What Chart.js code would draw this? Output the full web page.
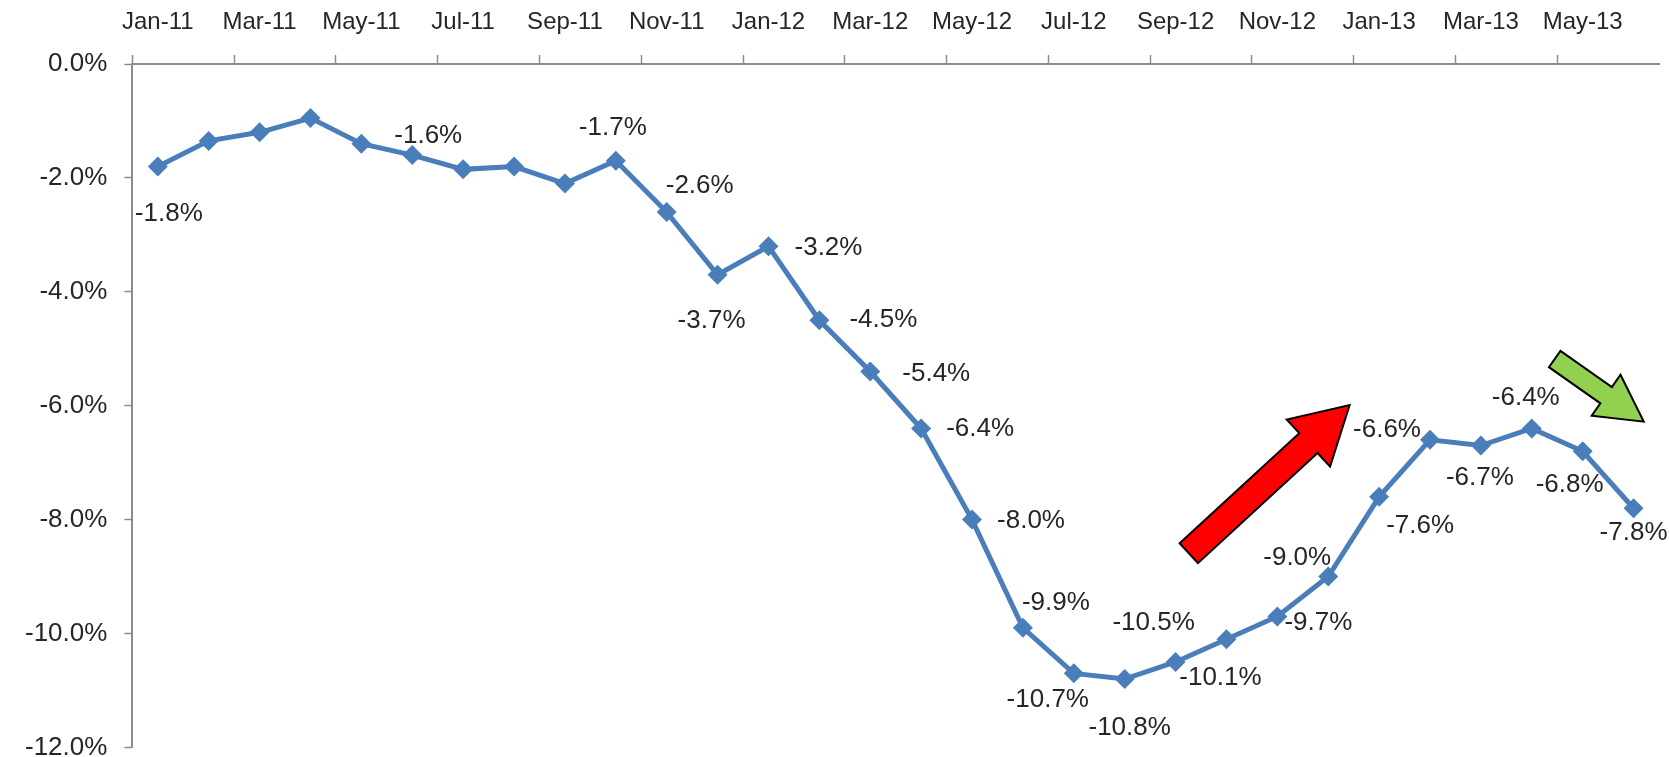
<!DOCTYPE html>
<html>
<head>
<meta charset="utf-8">
<script src="https://cdn.jsdelivr.net/npm/chart.js@4.4.1/dist/chart.umd.min.js"></script>
<style>
  html, body { margin: 0; padding: 0; background: #fff; overflow: hidden; }
  #wrap { width: 1669px; height: 780px; position: relative; }
</style>
</head>
<body>
<div id="wrap"><canvas id="chart"></canvas></div>
<script>
// months shown on the chart, Jan-11 .. Jun-13
const months = [
    'Jan-11', 'Feb-11', 'Mar-11', 'Apr-11', 'May-11', 'Jun-11', 'Jul-11', 'Aug-11', 'Sep-11', 'Oct-11', 'Nov-11', 'Dec-11',
    'Jan-12', 'Feb-12', 'Mar-12', 'Apr-12', 'May-12', 'Jun-12', 'Jul-12', 'Aug-12', 'Sep-12', 'Oct-12', 'Nov-12', 'Dec-12',
    'Jan-13', 'Feb-13', 'Mar-13', 'Apr-13', 'May-13', 'Jun-13'
];

// percent change
const values = [
    -1.8, -1.35, -1.2, -0.95, -1.4, -1.6, -1.85, -1.8, -2.1, -1.7, -2.6, -3.7,
    -3.2, -4.5, -5.4, -6.4, -8.0, -9.9, -10.7, -10.8, -10.5, -10.1, -9.7, -9.0,
    -7.6, -6.6, -6.7, -6.4, -6.8, -7.8
];

// which points carry a value label
const labelled = [
    true, false, false, false, false, true, false, false, false, true, true, true,
    true, true, true, true, true, true, true, true, true, true, true, true,
    true, true, true, true, true, true
];

// y axis ticks
const yTicks = [0, -2, -4, -6, -8, -10, -12];

// label placement around each point, in px (dx, dy)
const labelOffsets = [
    [11, 47], null, null, null, null, [16, -19], null, null, null, [-3, -33], [33, -26], [-6, 46],
    [60, 2], [64, 0], [66, 2], [59, 0], [59, 1], [33, -25], [-26, 26], [5, 49], [-22, -39], [-6, 39], [41, 6], [-31, -19],
    [41, 29], [-43, -10], [-1, 32], [-6, -31], [-13, 34], [0, 25]
];

// annotation arrows, given in (category index, value)
const arrows = [
    { from: [20.26, -8.59], to: [23.42, -5.99], color: '#ff0000', shaft: 27, head: 64, headLen: 56 },
    { from: [27.45, -5.18], to: [29.2, -6.28], color: '#92d050', shaft: 20, head: 50, headLen: 46 }
];

const FONT = '"Liberation Sans", Arial, sans-serif';
const TEXT = '#262626';
const AXIS = '#8c8c8c';

const pointLabels = {
    id: 'pointLabels',
    afterDatasetsDraw(chart) {
        const c = chart.ctx;
        const meta = chart.getDatasetMeta(0);
        c.save();
        c.font = '26px ' + FONT;
        c.fillStyle = TEXT;
        c.textAlign = 'center';
        c.textBaseline = 'middle';
        meta.data.forEach((pt, i) => {
            if (!labelled[i] || !labelOffsets[i]) return;
            const txt = values[i].toFixed(1) + '%';
            c.fillText(txt, pt.x + labelOffsets[i][0], pt.y + labelOffsets[i][1]);
        });
        c.restore();
    }
};

const arrowShapes = {
    id: 'arrowShapes',
    afterDraw(chart) {
        const c = chart.ctx;
        const xs = chart.scales.x, ys = chart.scales.y;
        arrows.forEach(a => {
            const x1 = xs.getPixelForValue(a.from[0]), y1 = ys.getPixelForValue(a.from[1]);
            const x2 = xs.getPixelForValue(a.to[0]), y2 = ys.getPixelForValue(a.to[1]);
            const len = Math.hypot(x2 - x1, y2 - y1);
            const ang = Math.atan2(y2 - y1, x2 - x1);
            const s = a.shaft / 2, h = a.head / 2, b = len - a.headLen;
            c.save();
            c.translate(x1, y1);
            c.rotate(ang);
            c.beginPath();
            c.moveTo(0, -s);
            c.lineTo(b, -s);
            c.lineTo(b, -h);
            c.lineTo(len, 0);
            c.lineTo(b, h);
            c.lineTo(b, s);
            c.lineTo(0, s);
            c.closePath();
            c.fillStyle = a.color;
            c.fill();
            c.lineWidth = 2;
            c.strokeStyle = '#000';
            c.stroke();
            c.restore();
        });
    }
};

new Chart(document.getElementById('chart'), {
    type: 'line',
    data: {
        labels: months,
        datasets: [{
            data: values,
            borderColor: '#4a7ebb',
            backgroundColor: '#4a7ebb',
            borderWidth: 5,
            pointStyle: 'rectRot',
            pointRadius: 10,
            pointBorderWidth: 0,
            tension: 0
        }]
    },
    options: {
        responsive: true,
        maintainAspectRatio: false,
        animation: false,
        layout: { padding: { left: 8, right: 5, top: 0, bottom: 10 } },
        plugins: {
            legend: { display: false },
            tooltip: { enabled: false }
        },
        scales: {
            x: {
                position: 'top',
                offset: true,
                afterFit: s => { s.height = 64; },
                grid: {
                    offset: true,
                    drawOnChartArea: false,
                    drawTicks: true,
                    tickLength: 9,
                    tickWidth: 1.5,
                    tickColor: ctx => (ctx.index % 2 === 0 ? AXIS : 'rgba(0,0,0,0)')
                },
                border: { color: AXIS, width: 2 },
                ticks: {
                    autoSkip: false,
                    maxRotation: 0,
                    padding: 18,
                    color: TEXT,
                    font: { family: FONT, size: 24 },
                    callback: function (v, i) { return i % 2 === 0 ? months[i] : ''; }
                }
            },
            y: {
                min: -12,
                max: 0,
                afterBuildTicks: s => { s.ticks = yTicks.map(v => ({ value: v })); },
                grid: {
                    drawOnChartArea: false,
                    drawTicks: true,
                    tickLength: 8,
                    tickWidth: 1.5,
                    tickColor: AXIS
                },
                border: { color: AXIS, width: 2 },
                ticks: {
                    padding: 17,
                    color: TEXT,
                    font: { family: FONT, size: 26 },
                    callback: v => v.toFixed(1) + '%'
                }
            }
        }
    },
    plugins: [pointLabels, arrowShapes]
});
</script>
</body>
</html>
